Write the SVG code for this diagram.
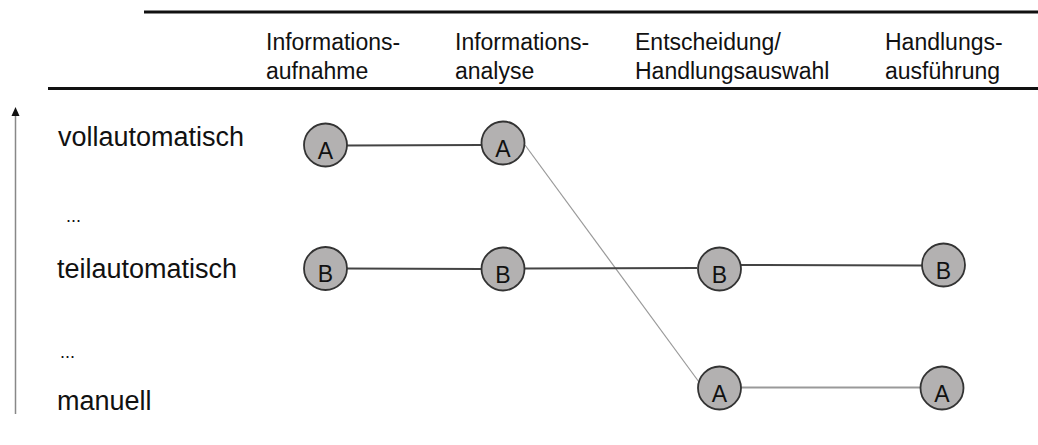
<svg xmlns="http://www.w3.org/2000/svg" width="1038" height="445" viewBox="0 0 1038 445">
<style>
  text { font-family: "Liberation Sans", Arial, sans-serif; fill: #111; }
  .hdr { font-size: 23px; }
  .lvl { font-size: 27px; }
  .dots { font-size: 18px; }
  .node circle { fill: #b3b1b1; stroke: #333; stroke-width: 1.8; }
  .node text { font-size: 23px; text-anchor: middle; }
  .rule { stroke: #111; stroke-width: 3; }
  .c-dark { stroke: #444; stroke-width: 2; fill: none; }
  .c-light { stroke: #999; stroke-width: 2; fill: none; }
  .c-thin { stroke: #999; stroke-width: 1.2; fill: none; }
</style>

<g id="header">
  <line class="rule" x1="144" y1="12" x2="1038" y2="12"/>
  <line class="rule" x1="48" y1="88.5" x2="1038" y2="88.5"/>
  <text class="hdr" x="266" y="50">Informations-</text>
  <text class="hdr" x="266" y="79">aufnahme</text>
  <text class="hdr" x="455" y="50">Informations-</text>
  <text class="hdr" x="455" y="79">analyse</text>
  <text class="hdr" x="635" y="50">Entscheidung/</text>
  <text class="hdr" x="635" y="79">Handlungsauswahl</text>
  <text class="hdr" x="885" y="50">Handlungs-</text>
  <text class="hdr" x="885" y="79">ausführung</text>
</g>

<g id="axis">
  <line x1="15.5" y1="114" x2="15.5" y2="414" stroke="#888" stroke-width="1.5"/>
  <polygon points="15.5,107 11.5,116 19.5,116" fill="#111"/>
</g>

<g id="levels">
  <text class="lvl" x="58" y="146">vollautomatisch</text>
  <text class="dots" x="66" y="222">...</text>
  <text class="lvl" x="57" y="278">teilautomatisch</text>
  <text class="dots" x="60" y="358">...</text>
  <text class="lvl" x="57" y="410">manuell</text>
</g>

<g id="connectors">
  <line class="c-dark" x1="347" y1="145.5" x2="481" y2="145"/>
  <line class="c-thin" x1="525" y1="145" x2="699" y2="382"/>
  <line class="c-dark" x1="347" y1="268.5" x2="481" y2="269"/>
  <line class="c-dark" x1="525" y1="268.5" x2="697" y2="268"/>
  <line class="c-dark" x1="741" y1="265" x2="922" y2="265.5"/>
  <line class="c-light" x1="741" y1="387.5" x2="920" y2="387.5"/>
</g>

<g id="n1" class="node"><circle cx="325.5" cy="145" r="21.5"/><text x="325.5" y="158.5">A</text></g>
<g id="n2" class="node"><circle cx="503" cy="143" r="21.5"/><text x="503" y="156.5">A</text></g>
<g id="n3" class="node"><circle cx="325.5" cy="268.5" r="21.5"/><text x="325.5" y="282">B</text></g>
<g id="n4" class="node"><circle cx="503" cy="269" r="21.5"/><text x="503" y="282.5">B</text></g>
<g id="n5" class="node"><circle cx="719.5" cy="269" r="21.5"/><text x="719.5" y="282.5">B</text></g>
<g id="n6" class="node"><circle cx="943.5" cy="265" r="21.5"/><text x="943.5" y="278.5">B</text></g>
<g id="n7" class="node"><circle cx="719.5" cy="388" r="21.5"/><text x="719.5" y="401.5">A</text></g>
<g id="n8" class="node"><circle cx="942" cy="388" r="21.5"/><text x="942" y="401.5">A</text></g>
</svg>
